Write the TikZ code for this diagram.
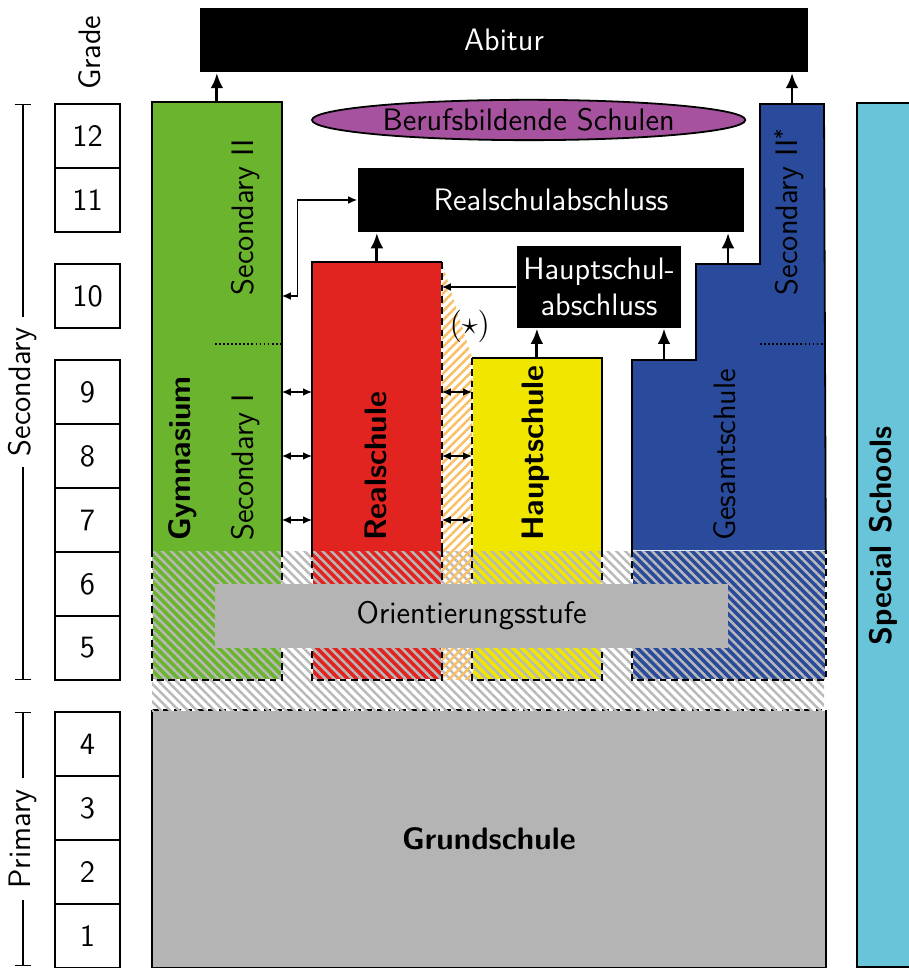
\documentclass[tikz,border=0pt]{standalone}
\usetikzlibrary{arrows.meta,patterns.meta,shapes.geometric}
\definecolor{gymgreen}{RGB}{106,180,46}
\definecolor{realred}{RGB}{226,36,33}
\definecolor{hauptyellow}{RGB}{240,230,0}
\definecolor{gesblue}{RGB}{42,75,155}
\definecolor{specialcyan}{RGB}{104,196,216}
\definecolor{berufmagenta}{RGB}{166,82,158}
\definecolor{schoolgray}{RGB}{180,180,180}
\definecolor{hatchgray}{RGB}{185,185,185}
\definecolor{starorange}{RGB}{250,190,100}
\begin{document}
\begin{tikzpicture}[font=\sffamily\fontsize{13.8}{16}\selectfont, thick,
  grade/.style={draw,line width=1pt,minimum width=1.015cm,minimum height=1cm,inner sep=0pt},
  school/.style={anchor=south west,inner sep=0pt,minimum width=2cm},
  hatch/.style={pattern={Lines[angle=-45,distance=2.8pt,line width=1.1pt]},pattern color=hatchgray},
  lower/.style={school,minimum height=2cm,preaction={fill=#1},hatch},
  dashedge/.style={dash pattern=on 3pt off 2pt},
  exam/.style={fill=black,text=white,inner sep=0pt},
  vlabel/.style={rotate=90,anchor=west,inner sep=0pt},
  up/.style={-{Latex[length=2.4mm,width=2mm]},line width=1.3pt},
  pass/.style={{Latex[length=1.4mm,width=1.2mm]}-{Latex[length=1.4mm,width=1.2mm]},semithick},
  spanbar/.style={{Bar[width=2.6mm]}-{Bar[width=2.6mm]},semithick}]
\useasboundingbox (0,0) rectangle (14.203,15.125);

\foreach \g/\y in {1/0.5,2/1.5,3/2.5,4/3.5,5/5,6/6,7/7,8/8,9/9,10/10.5,11/12,12/13}
  \node at (1.3675,\y) [grade] (g\g) {\g};
\node at (1.4,14.3) [rotate=90] (gradelbl) {Grade};

\coordinate (sectop) at (0.36,13.5);
\coordinate (secbot) at (0.36,4.5);
\coordinate (primtop) at (0.36,4);
\coordinate (primbot) at (0.36,0.03);
\draw[spanbar] (sectop) -- (secbot) node[midway,rotate=90,fill=white,inner xsep=5pt] (seclbl) {Secondary};
\draw[spanbar] (primtop) -- (primbot) node[midway,rotate=90,fill=white,inner xsep=5pt] (primlbl) {Primary};

\node at (2.375,0) [anchor=south west,inner sep=0pt,minimum width=10.5cm,minimum height=4cm,fill=schoolgray] (grund) {\bfseries Grundschule};
\draw (grund.north west) |- (grund.south east) -- (grund.north east);
\draw[dashedge] (grund.north west) -- (grund.north east);
\fill[hatch] (2.375,4) rectangle (12.875,6.5);

\node at (13.375,0) [anchor=south west,inner sep=0pt,draw,fill=specialcyan,minimum width=0.9cm,minimum height=13.5cm] (special) {};
\node at (13.8,6.75) [rotate=90] (speciallbl) {\bfseries Special Schools};

\node at (2.375,6.5) [school,fill=gymgreen,minimum height=7cm] (gym) {};
\node at (2.375,4.5) [lower=gymgreen] (gym56) {};
\node at (4.875,6.5) [school,fill=realred,minimum height=4.5cm] (real) {};
\node at (4.875,4.5) [lower=realred] (real56) {};
\node at (7.375,6.5) [school,fill=hauptyellow,minimum height=3cm] (haupt) {};
\node at (7.375,4.5) [lower=hauptyellow] (haupt56) {};
\node at (9.875,4.5) [lower=gesblue,minimum width=3cm] (ges56) {};
\fill[pattern={Lines[angle=45,distance=2.8pt,line width=1.1pt]},pattern color=starorange]
  (real.north east) -- (haupt.north west) -- (haupt56.south west) -- (real56.south east) -- cycle;

\fill[gesblue] (ges56.north west) |- (10.875,9.5) |- (11.875,11) |- (12.875,13.5) -- (ges56.north east) -- cycle;
\draw (ges56.north west) |- (10.875,9.5) |- (11.875,11) |- (12.875,13.5) -- (ges56.north east);
\draw[dashedge] (ges56.north west) |- (ges56.south east) -- (ges56.north east);
\coordinate (ges1) at (10.375,9.5);
\coordinate (ges2) at (11.375,11);
\coordinate (ges3) at (12.375,13.5);

\draw (gym.south west) |- (gym.north east) -- (gym.south east);
\draw (real.south west) |- (real.north east);
\draw[dashedge] (real.north east) -- (real.south east);
\draw (haupt.north west) -| (haupt.south east);
\draw[dashedge] (haupt.north west) -- (haupt.south west);
\foreach \s in {gym,real,haupt}
  \draw[dashedge] (\s56.north west) |- (\s56.south east) -- (\s56.north east);
\draw[densely dotted,thick] (3.36,9.75) -- (4.375,9.75);
\draw[densely dotted,thick] (11.875,9.75) -- (12.875,9.75);

\node at (7.37,5.5) [fill=schoolgray,minimum width=8.02cm,minimum height=1cm,inner sep=0pt] (orient) {Orientierungsstufe};

\node at (2.86,6.66) [vlabel] (gymlbl) {\bfseries Gymnasium};
\node at (3.83,6.66) [vlabel] (sec1) {Secondary I};
\node at (3.83,10.5) [vlabel] (sec2) {Secondary II};
\node at (5.875,6.66) [vlabel] (reallbl) {\bfseries Realschule};
\node at (8.375,6.66) [vlabel] (hauptlbl) {\bfseries Hauptschule};
\node at (11.33,6.66) [vlabel] (geslbl) {Gesamtschule};
\node at (12.33,10.5) [vlabel] (sec2star) {Secondary II\raisebox{0.6ex}{\small*}};

\node at (7.875,14.5) [exam,minimum width=9.5cm,minimum height=1cm] (abitur) {Abitur};
\node at (8.26,13.25) [ellipse,draw,fill=berufmagenta,minimum width=6.77cm,minimum height=0.63cm,inner sep=0pt] (beruf) {Berufsbildende Schulen};
\node at (8.61,12) [exam,minimum width=6.03cm,minimum height=1cm] (rsa) {Realschulabschluss};
\node at (9.36,10.64) [exam,minimum width=2.56cm,minimum height=1.27cm,align=center] (hsa) {Hauptschul-\\abschluss};
\node at (7.34,10.02) (star) {$(\star)$};

\draw[up] (gym.north) -- (gym.north |- abitur.south);
\draw[up] (ges3) -- (ges3 |- abitur.south);
\draw[up] (real.north) -- (real.north |- rsa.south);
\draw[up] (ges2) -- (ges2 |- rsa.south);
\draw[up] (haupt.north) -- (haupt.north |- hsa.south);
\draw[up] (ges1) -- (ges1 |- hsa.south);
\draw[-{Latex[length=1.4mm,width=1.2mm]},semithick] (hsa.west) -- (real.east |- hsa.west);
\draw[pass] (gym.east |- g10) -- ++(0.25,0) |- (rsa.west);
\foreach \g in {7,8,9} {
  \draw[pass] (gym.east |- g\g) -- (real.west |- g\g);
  \draw[pass] (real.east |- g\g) -- (haupt.west |- g\g);
}
\end{tikzpicture}
\end{document}
